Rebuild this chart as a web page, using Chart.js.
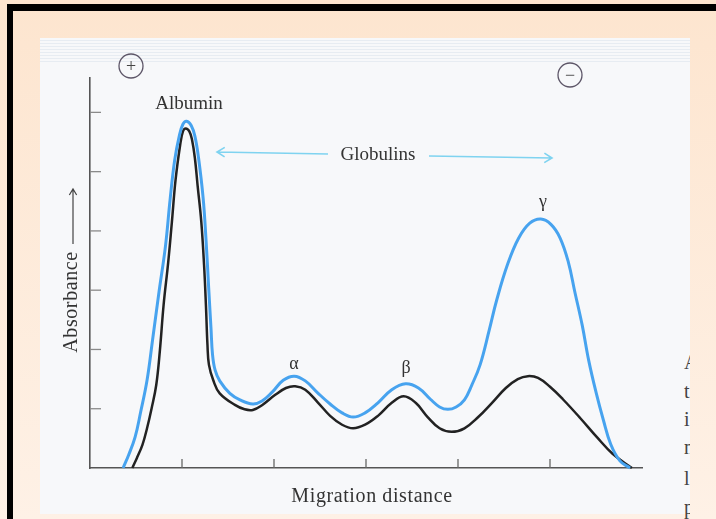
<!DOCTYPE html>
<html>
<head>
<meta charset="utf-8">
<script src="https://cdn.jsdelivr.net/npm/chart.js@4"></script>
<style>
  body { margin: 0; width: 716px; height: 519px; overflow: hidden; position: relative; background: linear-gradient(#fde5cf, #fef1e6); }
  #frame { position: absolute; left: 7px; top: 4px; right: -10px; bottom: -10px; border-left: 6px solid #000; border-top: 7px solid #000; }
  #panel { position: absolute; left: 40px; top: 38px; width: 650px; height: 476px; background: #f7f8fa; }
  #stripes { position: absolute; left: 0; top: 0; width: 100%; height: 24px; background: repeating-linear-gradient(#f7f8fa 0 2px, #e7ecf2 2px 3px); }
  #edge { position: absolute; left: 683px; top: 340px; width: 7px; height: 179px; overflow: hidden; font: 20px "Liberation Serif", serif; color: #444; line-height: 20px; }
  #edge span { position: absolute; left: 1px; }
  canvas { position: absolute; left: 0; top: 0; }
</style>
</head>
<body>
<div id="frame"></div>
<div id="panel"><div id="stripes"></div></div>
<div id="edge">
  <span style="top:12px">A</span>
  <span style="top:41px">t</span>
  <span style="top:69px">i</span>
  <span style="top:97px">n</span>
  <span style="top:128px">l</span>
  <span style="top:157px">p</span>
</div>
<canvas id="chart" width="716" height="519"></canvas>
<script>
// migration distance ticks (x) and absorbance ticks (y)
const xTicks = [1, 2, 3, 4, 5];
const yTicks = [1, 2, 3, 4, 5, 6];

// total protein trace (blue)
const totalX = [0.36, 0.42, 0.49, 0.55, 0.62, 0.68, 0.75, 0.82, 0.87, 0.92, 0.97, 1.01, 1.05, 1.10, 1.14, 1.18, 1.23, 1.26, 1.29, 1.315, 1.332, 1.36, 1.41, 1.52, 1.63, 1.77, 1.87, 1.98, 2.10, 2.22, 2.34, 2.48, 2.61, 2.74, 2.86, 2.99, 3.13, 3.28, 3.43, 3.57, 3.70, 3.80, 3.89, 3.98, 4.07, 4.15, 4.24, 4.34, 4.42, 4.54, 4.66, 4.78, 4.90, 5.01, 5.11, 5.20, 5.27, 5.35, 5.42, 5.50, 5.58, 5.66, 5.76, 5.87];
const totalY = [0, 0.22, 0.52, 0.94, 1.48, 2.16, 2.97, 3.74, 4.52, 5.19, 5.60, 5.80, 5.85, 5.78, 5.60, 5.23, 4.55, 3.88, 3.04, 2.36, 1.91, 1.65, 1.47, 1.26, 1.15, 1.08, 1.13, 1.28, 1.48, 1.55, 1.47, 1.26, 1.08, 0.93, 0.86, 0.93, 1.10, 1.32, 1.42, 1.35, 1.16, 1.03, 0.99, 1.03, 1.15, 1.40, 1.74, 2.33, 2.83, 3.44, 3.88, 4.13, 4.20, 4.11, 3.88, 3.47, 2.97, 2.41, 1.82, 1.28, 0.81, 0.40, 0.12, 0];

// second trace (black)
const partX = [0.46, 0.51, 0.57, 0.62, 0.67, 0.72, 0.76, 0.80, 0.85, 0.89, 0.93, 0.98, 1.01, 1.04, 1.08, 1.11, 1.14, 1.17, 1.21, 1.24, 1.26, 1.277, 1.293, 1.34, 1.41, 1.58, 1.68, 1.77, 1.87, 2.01, 2.13, 2.23, 2.34, 2.48, 2.61, 2.74, 2.86, 2.99, 3.13, 3.28, 3.41, 3.54, 3.67, 3.80, 3.93, 4.07, 4.22, 4.37, 4.52, 4.65, 4.76, 4.87, 5.00, 5.14, 5.33, 5.51, 5.68, 5.89];
const partY = [0, 0.17, 0.39, 0.67, 1.01, 1.40, 1.99, 2.75, 3.47, 4.15, 4.86, 5.45, 5.68, 5.73, 5.68, 5.53, 5.23, 4.76, 4.15, 3.42, 2.75, 2.07, 1.74, 1.48, 1.26, 1.06, 0.99, 0.98, 1.06, 1.23, 1.35, 1.38, 1.32, 1.10, 0.88, 0.73, 0.67, 0.73, 0.88, 1.10, 1.21, 1.10, 0.86, 0.67, 0.61, 0.67, 0.86, 1.10, 1.35, 1.50, 1.55, 1.52, 1.37, 1.16, 0.84, 0.52, 0.24, 0];

const peakNames = ['Albumin', 'α', 'β', 'γ'];
const groupName = 'Globulins';
const xTitle = 'Migration distance';
const yTitle = 'Absorbance';

const serif = '"Liberation Serif", "DejaVu Serif", serif';

function toPoints(xs, ys) {
  return xs.map((x, i) => ({ x: x, y: ys[i] }));
}

function arrow(ctx, x1, y1, x2, y2, head) {
  const a = Math.atan2(y2 - y1, x2 - x1);
  ctx.beginPath();
  ctx.moveTo(x1, y1);
  ctx.lineTo(x2, y2);
  ctx.moveTo(x2 - head * Math.cos(a - 0.55), y2 - head * Math.sin(a - 0.55));
  ctx.lineTo(x2, y2);
  ctx.lineTo(x2 - head * Math.cos(a + 0.55), y2 - head * Math.sin(a + 0.55));
  ctx.stroke();
}

const decor = {
  id: 'decor',
  afterDatasetsDraw(chart) {
    const ctx = chart.ctx;
    const xs = chart.scales.x;
    const ys = chart.scales.y;
    const left = chart.chartArea.left;
    const bottom = chart.chartArea.bottom;
    ctx.save();

    // inward tick marks
    ctx.lineWidth = 1.3;
    ctx.strokeStyle = '#8a8a8a';
    yTicks.forEach(v => {
      const py = ys.getPixelForValue(v);
      ctx.beginPath();
      ctx.moveTo(left, py);
      ctx.lineTo(left + 11, py);
      ctx.stroke();
    });
    ctx.strokeStyle = '#666';
    xTicks.forEach(v => {
      const px = xs.getPixelForValue(v);
      ctx.beginPath();
      ctx.moveTo(px, bottom);
      ctx.lineTo(px, bottom - 9);
      ctx.stroke();
    });

    // text
    ctx.fillStyle = '#333';
    ctx.textAlign = 'center';
    ctx.textBaseline = 'middle';
    ctx.font = '19px ' + serif;
    ctx.fillText(peakNames[0], 189, 104);
    ctx.fillText(groupName, 378, 155);
    ctx.font = '18px ' + serif;
    ctx.fillText(peakNames[1], 294, 364);
    ctx.fillText(peakNames[2], 406, 368);
    ctx.fillText(peakNames[3], 543, 202);

    ctx.font = '20px ' + serif;
    ctx.letterSpacing = '0.6px';
    ctx.fillText(xTitle, 372, 497);
    ctx.save();
    ctx.translate(72, 302);
    ctx.rotate(-Math.PI / 2);
    ctx.fillText(yTitle, 0, 0);
    ctx.restore();
    ctx.letterSpacing = '0px';

    // absorbance arrow
    ctx.strokeStyle = '#444';
    ctx.lineWidth = 1.2;
    arrow(ctx, 73, 244, 73, 189, 7);

    // globulins arrows
    ctx.strokeStyle = '#7fd3f0';
    ctx.lineWidth = 1.6;
    arrow(ctx, 328, 154, 217, 152, 9);
    arrow(ctx, 429, 156, 552, 158, 9);

    // electrode signs
    ctx.strokeStyle = '#5d5668';
    ctx.lineWidth = 1.3;
    [[131, 66, '+'], [570, 75, '−']].forEach(s => {
      ctx.beginPath();
      ctx.arc(s[0], s[1], 12, 0, Math.PI * 2);
      ctx.stroke();
      ctx.fillStyle = '#444';
      ctx.font = '18px ' + serif;
      ctx.fillText(s[2], s[0], s[1] + 1);
    });

    ctx.restore();
  }
};

const axisOpts = {
  type: 'linear',
  grid: { display: false, drawTicks: false },
  ticks: { display: false },
  border: { display: true, color: '#555', width: 1.6 }
};

new Chart(document.getElementById('chart'), {
  type: 'line',
  data: {
    datasets: [
      {
        data: toPoints(totalX, totalY),
        borderColor: '#47a3ef',
        borderWidth: 3,
        pointRadius: 0,
        tension: 0.4,
        fill: false,
        clip: false
      },
      {
        data: toPoints(partX, partY),
        borderColor: '#222',
        borderWidth: 2.5,
        pointRadius: 0,
        tension: 0.4,
        fill: false,
        clip: false
      }
    ]
  },
  options: {
    responsive: false,
    animation: false,
    layout: { autoPadding: false, padding: { left: 90, right: 74, top: 78, bottom: 51 } },
    plugins: { legend: { display: false }, tooltip: { enabled: false } },
    scales: {
      x: Object.assign({}, axisOpts, { min: 0, max: 6 }),
      y: Object.assign({}, axisOpts, { min: 0, max: 6.58 })
    }
  },
  plugins: [decor]
});
</script>
</body>
</html>
